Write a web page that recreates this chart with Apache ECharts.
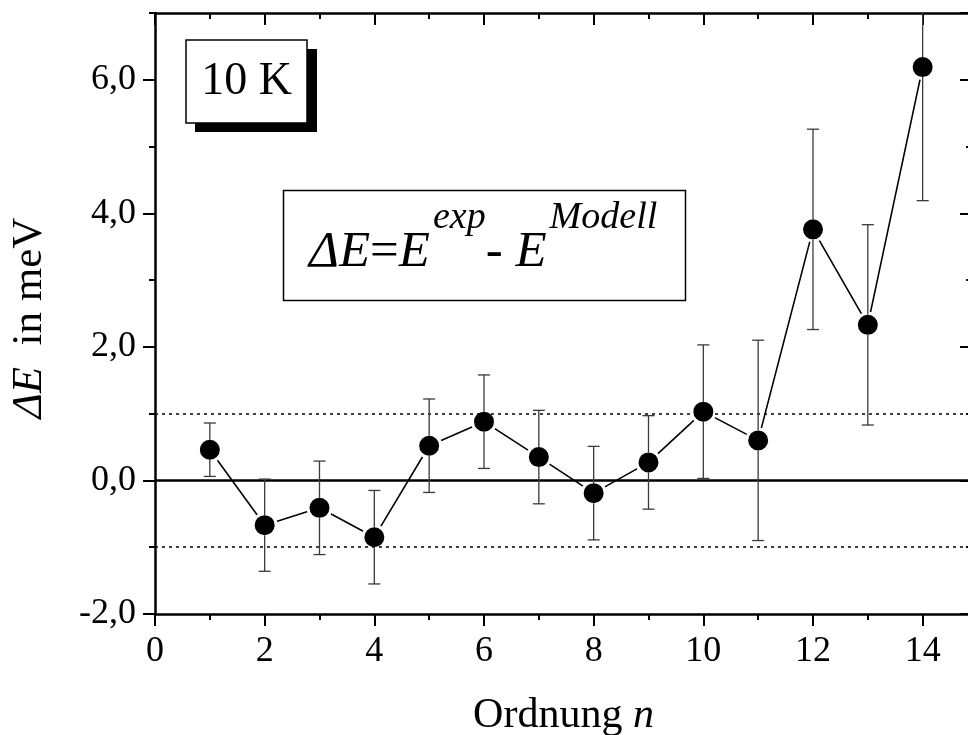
<!DOCTYPE html>
<html>
<head>
<meta charset="utf-8">
<script src="https://cdn.jsdelivr.net/npm/echarts@6/dist/echarts.min.js"></script>
<style>
html,body{margin:0;padding:0;background:#fff;}
#c{width:968px;height:735px;}
</style>
</head>
<body>
<div id="c"></div>
<script>
// ---- data ----
var orders = [1, 2, 3, 4, 5, 6, 7, 8, 9, 10, 11, 12, 13, 14];
var deltaE = [0.46, -0.67, -0.41, -0.85, 0.52, 0.88, 0.35, -0.19, 0.27, 1.03, 0.60, 3.76, 2.33, 6.19];
var errors = [0.40, 0.69, 0.70, 0.70, 0.70, 0.70, 0.70, 0.70, 0.70, 1.00, 1.50, 1.50, 1.50, 2.00];
var refLines = [0, 1, -1];
var xTickLabels = ['0', '2', '4', '6', '8', '10', '12', '14'];
var yTickLabels = ['-2,0', '0,0', '2,0', '4,0', '6,0'];
var tempLabel = '10 K';

var FONT = 'Liberation Serif';
var chart = echarts.init(document.getElementById('c'));

var points = orders.map(function (n, i) { return [n, deltaE[i]]; });
var bars = orders.map(function (n, i) { return [n, deltaE[i], errors[i]]; });

function xFmt(v) {
  var s = String(v);
  return xTickLabels.indexOf(s) >= 0 && Number.isInteger(v) ? s : '';
}
function yFmt(v) {
  if (!Number.isInteger(v)) return '';
  var s = v.toFixed(1).replace('.', ',');
  return yTickLabels.indexOf(s) >= 0 ? s : '';
}

var axisLine = { show: true, onZero: false, lineStyle: { color: '#000', width: 2.5 } };
var noLine = { show: false, onZero: false };

function xAx(pos, interval, len, inside, labels, line) {
  return {
    type: 'value', position: pos, min: 0, max: 14.9, interval: interval,
    axisLine: line ? axisLine : noLine,
    axisTick: { show: true, inside: inside, length: len, lineStyle: { color: '#000', width: 2 } },
    splitLine: { show: false },
    axisLabel: labels ? { show: true, formatter: xFmt, fontFamily: FONT, fontSize: 36, color: '#000', margin: 20, showMaxLabel: false } : { show: false }
  };
}
function yAx(pos, interval, len, inside, labels, line) {
  return {
    type: 'value', position: pos, min: -2, max: 7, interval: interval,
    axisLine: line ? axisLine : noLine,
    axisTick: { show: true, inside: inside, length: len, lineStyle: { color: '#000', width: 2 } },
    splitLine: { show: false },
    axisLabel: labels ? { show: true, formatter: yFmt, fontFamily: FONT, fontSize: 36, color: '#000', margin: 19, showMaxLabel: false } : { show: false }
  };
}

var xMain = xAx('bottom', 2, 12, false, true, true);
xMain.name = 'Ordnung {i|n}';
xMain.nameLocation = 'middle';
xMain.nameGap = 81;
xMain.nameTextStyle = {
  fontFamily: FONT, fontSize: 42, color: '#000',
  rich: { i: { fontFamily: FONT, fontSize: 42, fontStyle: 'italic', color: '#000' } }
};

var option = {
  backgroundColor: '#fff',
  animation: false,
  grid: { left: 155, right: -4, top: 13, bottom: 121, containLabel: false, outerBoundsMode: 'none' },
  xAxis: [
    xMain,
    xAx('bottom', 1, 6, false, false, false),
    xAx('top', 2, 12, true, false, true),
    xAx('top', 1, 6, true, false, false)
  ],
  yAxis: [
    yAx('left', 2, 12, false, true, true),
    yAx('left', 1, 6, false, false, false),
    yAx('right', 2, 12, true, false, true),
    yAx('right', 1, 6, true, false, false)
  ],
  series: [
    {
      type: 'line', xAxisIndex: 0, yAxisIndex: 0, z: 1, silent: true,
      data: [], symbol: 'none',
      markLine: {
        silent: true, symbol: 'none', label: { show: false },
        data: refLines.map(function (v) {
          return {
            yAxis: v,
            lineStyle: v === 0 ? { color: '#000', width: 2.6, type: 'solid' } : { color: '#000', width: 1.5, type: [3, 4] }
          };
        })
      }
    },
    {
      type: 'line', xAxisIndex: 0, yAxisIndex: 0, z: 3,
      data: points,
      symbol: 'circle', symbolSize: 23, showSymbol: true,
      lineStyle: { color: '#000', width: 1.6 },
      itemStyle: { color: '#000', borderColor: '#fff', borderWidth: 3 }
    },
    {
      type: 'custom', xAxisIndex: 0, yAxisIndex: 0, z: 5,
      data: bars,
      renderItem: function (params, api) {
        var x = api.value(0), y = api.value(1), e = api.value(2);
        var c = api.coord([x, y]);
        var hi = api.coord([x, y + e]);
        var lo = api.coord([x, y - e]);
        var cs = params.coordSys;
        var top = Math.max(hi[1], cs.y);
        var r = 10, w = 6;
        var st = { stroke: '#3a3a3a', lineWidth: 1.3 };
        var children = [
          { type: 'line', shape: { x1: c[0], y1: c[1] - r, x2: c[0], y2: top }, style: st },
          { type: 'line', shape: { x1: c[0], y1: c[1] + r, x2: c[0], y2: lo[1] }, style: st },
          { type: 'line', shape: { x1: c[0] - w, y1: lo[1], x2: c[0] + w, y2: lo[1] }, style: st }
        ];
        if (hi[1] >= cs.y) {
          children.push({ type: 'line', shape: { x1: c[0] - w, y1: hi[1], x2: c[0] + w, y2: hi[1] }, style: st });
        }
        return { type: 'group', children: children };
      }
    }
  ],
  graphic: [
    { type: 'rect', z: 10, shape: { x: 195, y: 49, width: 122, height: 83 }, style: { fill: '#000' } },
    { type: 'rect', z: 11, shape: { x: 186, y: 40, width: 121, height: 83 }, style: { fill: '#fff', stroke: '#000', lineWidth: 1.5 } },
    { type: 'text', z: 12, x: 246.5, y: 82, style: { text: tempLabel, font: '46px "Liberation Serif"', fill: '#000', align: 'center', verticalAlign: 'middle' } },
    { type: 'rect', z: 10, shape: { x: 283.5, y: 190.5, width: 402, height: 110 }, style: { fill: '#fff', stroke: '#000', lineWidth: 1.5 } },
    {
      type: 'text', z: 12, x: 309, y: 253,
      style: {
        text: '{i|ΔE}{n|=}{i|E}{s|exp}{n|- }{i|E}{s|Modell}',
        align: 'left', verticalAlign: 'middle',
        rich: {
          i: { fontFamily: FONT, fontSize: 51, fontStyle: 'italic', fill: '#000', lineHeight: 58 },
          n: { fontFamily: FONT, fontSize: 51, fill: '#000', lineHeight: 58 },
          s: { fontFamily: FONT, fontSize: 38, fontStyle: 'italic', fill: '#000', lineHeight: 38, padding: [0, 0, 70, 3] }
        }
      }
    },
    {
      type: 'text', z: 12, x: 30, y: 318, rotation: Math.PI / 2,
      style: {
        text: '{i|ΔE}  in meV',
        align: 'center', verticalAlign: 'middle',
        rich: {
          i: { fontFamily: FONT, fontSize: 43, fontStyle: 'italic', fill: '#000' }
        },
        font: '43px "Liberation Serif"', fill: '#000'
      }
    }
  ]
};
chart.setOption(option);
</script>
</body>
</html>
